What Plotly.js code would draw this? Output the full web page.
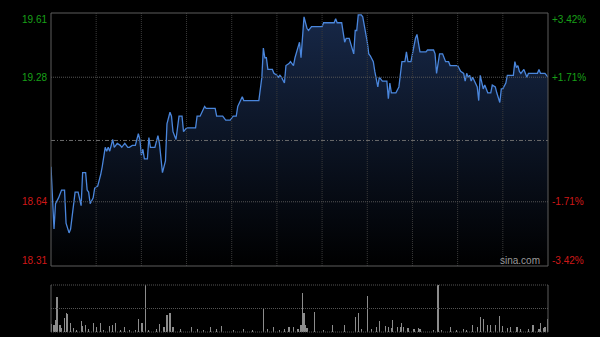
<!DOCTYPE html>
<html><head><meta charset="utf-8">
<script src="https://cdn.plot.ly/plotly-3.0.1.min.js"></script>
<style>html,body{margin:0;padding:0;background:#000;}#chart{width:600px;height:337px;}</style>
</head><body><div id="chart"></div>
<script>
// ---- data (minute index from 09:30, HK session: 330 minutes) ----
const minutes = [0,2,3,5,7,9,10,12,13,16,18,20,21,23,24,25,26,28,29,31,33,34,36,37,38,39,41,42,44,46,47,49,51,52,54,56,58,59,60,61,62,64,65,66,69,71,72,74,76,77,79,80,81,83,85,87,88,90,96,97,99,102,103,109,110,114,116,119,121,123,124,127,128,138,140,141,142,143,144,147,148,150,151,152,153,155,156,158,159,160,161,162,163,164,165,166,168,170,171,173,180,181,188,189,190,193,195,196,198,201,202,203,204,206,207,210,211,212,214,215,217,218,220,223,224,225,226,229,231,233,235,236,237,239,240,242,243,245,249,250,254,255,256,258,260,262,264,265,270,272,274,275,276,277,278,279,280,282,283,284,285,287,288,290,292,293,295,296,298,299,300,302,303,307,308,309,310,311,312,314,316,317,323,324,325,328,330];
const prices = [18.82,18.50,18.63,18.66,18.70,18.70,18.53,18.48,18.50,18.69,18.69,18.62,18.79,18.79,18.70,18.69,18.63,18.66,18.71,18.72,18.78,18.82,18.92,18.90,18.92,18.90,18.96,18.92,18.94,18.93,18.92,18.94,18.92,18.92,18.93,18.93,18.99,18.96,18.88,18.91,18.86,18.86,18.97,18.92,18.92,18.98,18.94,18.79,18.85,19.04,19.10,19.08,19.00,18.96,19.08,19.08,19.00,19.02,19.02,19.08,19.08,19.13,19.12,19.12,19.08,19.08,19.06,19.06,19.08,19.08,19.13,19.18,19.16,19.16,19.28,19.43,19.38,19.38,19.32,19.32,19.30,19.29,19.28,19.29,19.28,19.25,19.34,19.35,19.36,19.35,19.34,19.38,19.41,19.43,19.46,19.38,19.59,19.53,19.52,19.54,19.54,19.56,19.56,19.58,19.56,19.56,19.46,19.48,19.48,19.40,19.52,19.52,19.60,19.60,19.59,19.46,19.40,19.39,19.36,19.31,19.23,19.28,19.26,19.26,19.17,19.25,19.20,19.20,19.23,19.36,19.36,19.41,19.36,19.36,19.40,19.48,19.50,19.41,19.41,19.42,19.42,19.40,19.30,19.40,19.40,19.36,19.36,19.34,19.34,19.31,19.30,19.26,19.30,19.28,19.29,19.26,19.28,19.24,19.23,19.16,19.29,19.22,19.24,19.20,19.20,19.24,19.23,19.20,19.15,19.22,19.22,19.25,19.29,19.29,19.36,19.33,19.34,19.31,19.30,19.32,19.28,19.30,19.30,19.32,19.30,19.30,19.28];
const volMinutes = [0,2,3,4,6,7,9,10,11,13,15,17,20,21,23,25,28,30,33,35,39,41,43,46,49,52,56,58,60,61,63,65,70,72,75,77,79,81,86,93,97,101,106,110,113,121,128,134,141,144,148,152,155,158,161,164,166,167,168,169,170,175,181,187,195,202,204,206,210,213,216,218,222,224,226,227,230,232,233,234,237,241,244,245,254,257,259,265,269,274,276,280,283,285,287,290,292,295,298,300,303,305,309,310,312,317,320,324,325,327,328,330];
const volumes = [18,15,26,74,15,8,29,40,38,20,8,5,24,12,15,6,20,10,20,5,12,15,20,5,10,5,5,27,20,19,100,5,6,17,10,36,40,10,6,10,6,5,10,6,12,4,6,4,52,6,10,5,6,10,10,6,15,84,40,15,8,43,4,15,15,31,40,6,77,6,10,23,12,10,8,26,10,10,20,10,8,6,8,6,4,100,4,10,5,6,5,15,10,31,27,15,15,15,34,12,8,10,10,10,6,6,15,6,20,8,10,27];
const prevClose = 18.955;
const sessionMinutes = 330;
const priceTicks = [19.61, 19.28, 18.64, 18.31];
const priceTickText = ['19.61', '19.28', '18.64', '18.31'];
const pctTickText = ['+3.42%', '+1.71%', '-1.71%', '-3.42%'];

// ---- styles / layout ----
const UP = '#18a018', DOWN = '#d01818';
const FONT = 'Liberation Sans, Arial, sans-serif';
const priceBottom = (332 - 266) / 319;
const volTop = (332 - 285) / 319;
const yMin = Math.min(...priceTicks), yMax = Math.max(...priceTicks);

const priceTrace = {
  x: minutes, y: prices, type: 'scatter', mode: 'lines',
  xaxis: 'x', yaxis: 'y',
  line: {color: '#4a86dc', width: 1.3},
  fill: 'tozeroy',
  fillgradient: {type: 'vertical', start: yMin, stop: yMax,
    colorscale: [[0, 'rgb(0,0,0)'], [1, 'rgb(23,40,72)']]},
  hoverinfo: 'skip'
};
const volTrace = {
  x: volMinutes, y: volumes, type: 'bar', xaxis: 'x2', yaxis: 'y2',
  width: 0.75, marker: {color: '#8c8c8c', line: {width: 0}}, hoverinfo: 'skip'
};

const shapes = [];
// vertical grid every half hour (price panel)
for (let m = 30; m < sessionMinutes; m += 30) {
  shapes.push({type: 'line', xref: 'x', yref: 'paper', x0: m, x1: m, y0: priceBottom, y1: 1,
    line: {color: '#3a3a3a', width: 1, dash: '1px,1px'}, layer: 'above'});
}
// horizontal grid (inner ticks)
priceTicks.filter(v => v !== yMin && v !== yMax).forEach(v => {
  shapes.push({type: 'line', xref: 'paper', yref: 'y', x0: 0, x1: 1, y0: v, y1: v,
    line: {color: '#555555', width: 1, dash: '1px,1px'}, layer: 'above'});
});
// previous close
shapes.push({type: 'line', xref: 'paper', yref: 'y', x0: 0, x1: 1, y0: prevClose, y1: prevClose,
  line: {color: '#6a6a6a', width: 1, dash: '4px,2px,1px,2px'}, layer: 'above'});
// price frame
shapes.push({type: 'rect', xref: 'paper', yref: 'paper', x0: 0, x1: 1, y0: priceBottom, y1: 1,
  line: {color: '#5c5c5c', width: 1}, layer: 'above'});
// volume panel frame
[0, 0.5, 1].forEach(f => {
  shapes.push({type: 'line', xref: 'paper', yref: 'paper', x0: 0, x1: 1, y0: volTop * f, y1: volTop * f,
    line: {color: '#555555', width: 1, dash: '1px,1px'}, layer: 'above'});
});
[0, 1].forEach(xx => {
  shapes.push({type: 'line', xref: 'paper', yref: 'paper', x0: xx, x1: xx, y0: 0, y1: volTop,
    line: {color: '#5c5c5c', width: 1}, layer: 'above'});
});

const annotations = [];
priceTicks.forEach((v, i) => {
  const col = v > prevClose ? UP : DOWN;
  const shift = v === yMax ? -6 : (v === yMin ? 6 : 0);
  annotations.push({xref: 'paper', yref: 'y', x: -0.004, y: v, yshift: shift, xanchor: 'right', yanchor: 'middle',
    text: priceTickText[i], showarrow: false, font: {family: FONT, size: 10, color: col}});
  annotations.push({xref: 'paper', yref: 'y', x: 1.0045, y: v, yshift: shift, xanchor: 'left', yanchor: 'middle',
    text: pctTickText[i], showarrow: false, font: {family: FONT, size: 10, color: col}});
});
annotations.push({xref: 'paper', yref: 'y', x: 0.943, y: yMin, yshift: 6, xanchor: 'center', yanchor: 'middle',
  text: 'sina.com', showarrow: false, font: {family: FONT, size: 10, color: '#9a9a9a'}});

const layout = {
  width: 600, height: 337,
  margin: {l: 51, r: 52, t: 13, b: 5, pad: 0},
  paper_bgcolor: '#000', plot_bgcolor: '#000',
  showlegend: false,
  xaxis: {range: [0, sessionMinutes], domain: [0, 1], anchor: 'y', showgrid: false, showticklabels: false,
    ticks: '', zeroline: false, showline: false, fixedrange: true},
  yaxis: {range: [yMin, yMax], domain: [priceBottom, 1], anchor: 'x', showgrid: false, showticklabels: false,
    ticks: '', zeroline: false, showline: false, fixedrange: true},
  xaxis2: {range: [0, sessionMinutes], domain: [0, 1], anchor: 'y2', showgrid: false, showticklabels: false,
    ticks: '', zeroline: false, showline: false, fixedrange: true},
  yaxis2: {range: [0, 100], domain: [0, volTop], anchor: 'x2', showgrid: false, showticklabels: false,
    ticks: '', zeroline: false, showline: false, fixedrange: true},
  bargap: 0,
  shapes: shapes,
  annotations: annotations
};

Plotly.newPlot('chart', [priceTrace, volTrace], layout, {displayModeBar: false, staticPlot: true});
</script>
</body></html>
